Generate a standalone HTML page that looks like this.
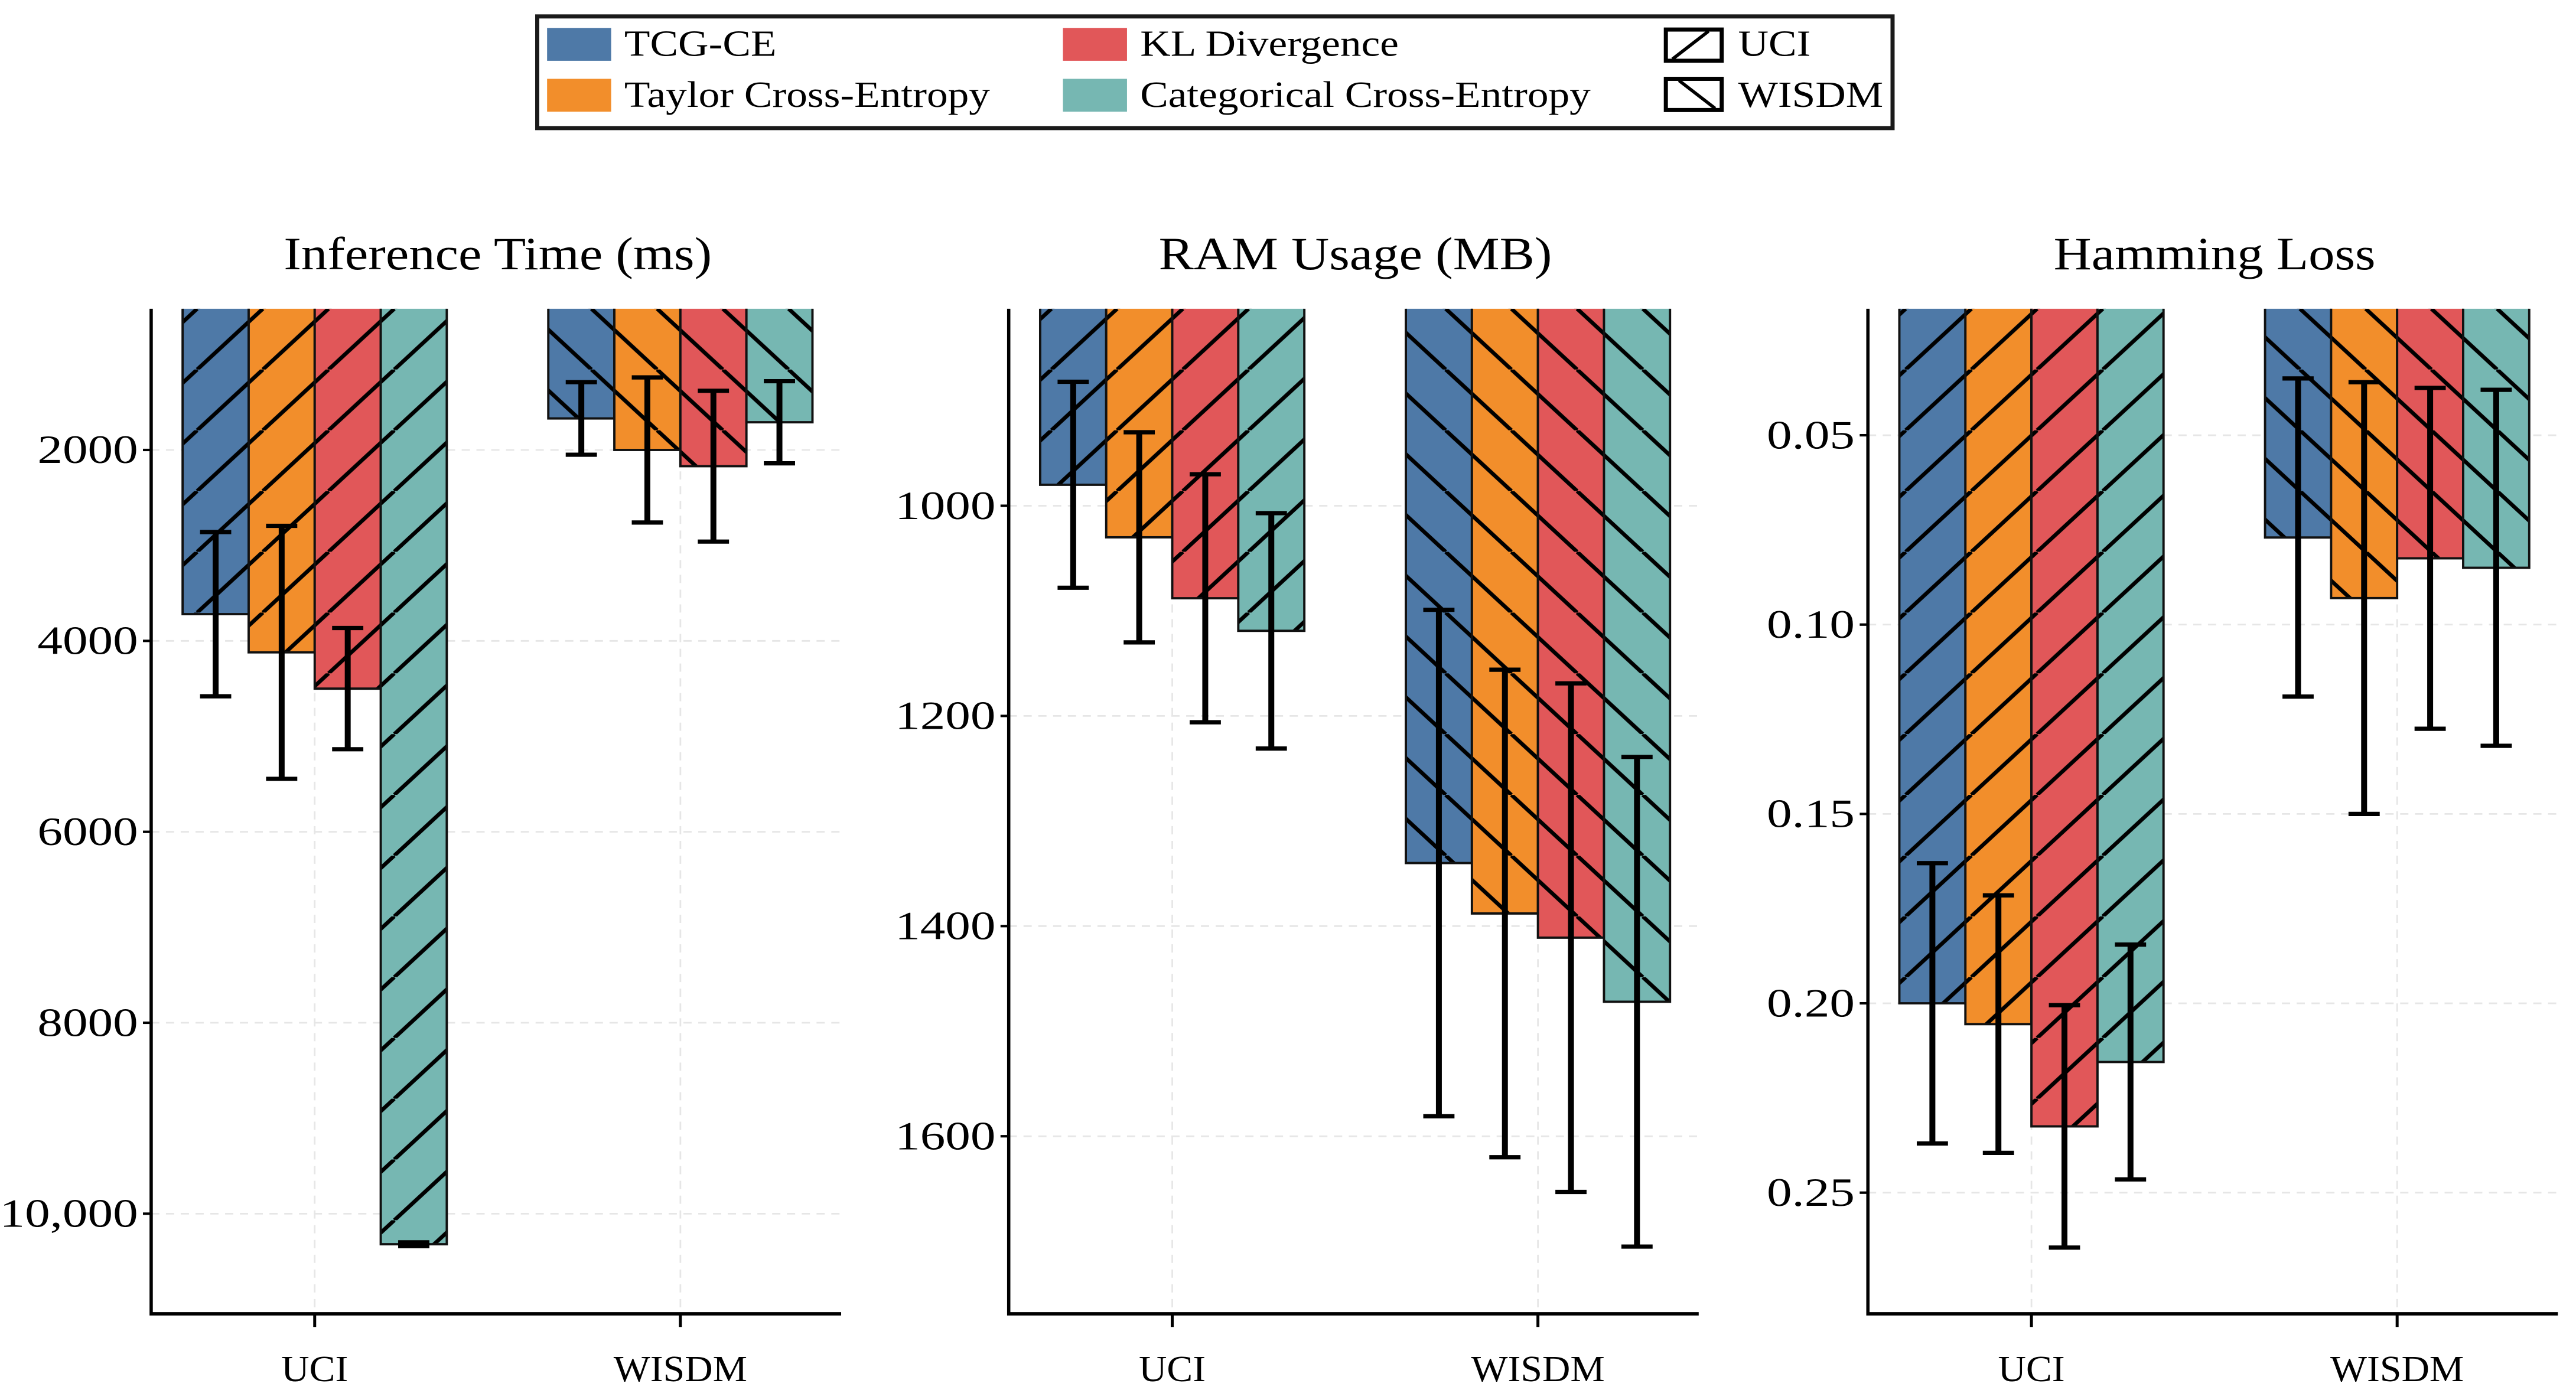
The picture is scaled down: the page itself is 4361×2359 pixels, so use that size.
<!DOCTYPE html>
<html><head><meta charset="utf-8"><style>
html,body{margin:0;padding:0;background:#fff;}
svg{display:block;font-family:"Liberation Serif","DejaVu Serif",serif;}
</style></head><body>
<svg id="chart" width="4361" height="2359" viewBox="0 0 1568 848.2" xmlns="http://www.w3.org/2000/svg">
<defs>
<pattern id="hf" patternUnits="userSpaceOnUse" width="40" height="37" x="0" y="188">
<line x1="-40" y1="37" x2="0" y2="0" stroke="#000" stroke-width="2.4"/>
<line x1="0" y1="37" x2="40" y2="0" stroke="#000" stroke-width="2.4"/>
<line x1="40" y1="37" x2="80" y2="0" stroke="#000" stroke-width="2.4"/>
</pattern>
<pattern id="hb" patternUnits="userSpaceOnUse" width="40" height="37" x="0" y="188">
<line x1="-40" y1="0" x2="0" y2="37" stroke="#000" stroke-width="2.4"/>
<line x1="0" y1="0" x2="40" y2="37" stroke="#000" stroke-width="2.4"/>
<line x1="40" y1="0" x2="80" y2="37" stroke="#000" stroke-width="2.4"/>
</pattern>
</defs>
<g>
<rect x="327" y="10" width="825" height="68" fill="#fff" stroke="#1a1a1a" stroke-width="2.5"/>
<rect x="333" y="17" width="39" height="20" fill="#4e79a7"/>
<text transform="translate(380,34) scale(1.14,1)" font-size="22.5">TCG-CE</text>
<rect x="333" y="48" width="39" height="20" fill="#f28e2b"/>
<text transform="translate(380,65) scale(1.14,1)" font-size="22.5">Taylor Cross-Entropy</text>
<rect x="647" y="17" width="39" height="20" fill="#e15759"/>
<text transform="translate(694,34) scale(1.14,1)" font-size="22.5">KL Divergence</text>
<rect x="647" y="48" width="39" height="20" fill="#76b7b2"/>
<text transform="translate(694,65) scale(1.14,1)" font-size="22.5">Categorical Cross-Entropy</text>
<g><rect x="1014" y="18" width="34" height="19" fill="#fff" stroke="#000" stroke-width="2.5"/><line x1="1018" y1="36" x2="1040" y2="19" stroke="#000" stroke-width="2"/></g>
<text transform="translate(1058,34) scale(1.14,1)" font-size="22.5">UCI</text>
<g><rect x="1014" y="48" width="34" height="19" fill="#fff" stroke="#000" stroke-width="2.5"/><line x1="1022" y1="49" x2="1044" y2="66" stroke="#000" stroke-width="2"/></g>
<text transform="translate(1058,65) scale(1.14,1)" font-size="22.5">WISDM</text>
</g>
<g id="panels"></g>
</svg>
<script>
const categories = ["UCI", "WISDM"];
const seriesNames = ["TCG-CE", "Taylor Cross-Entropy", "KL Divergence", "Categorical Cross-Entropy"];
const colors = ["#4e79a7", "#f28e2b", "#e15759", "#76b7b2"];
const titles = ["Inference Time (ms)", "RAM Usage (MB)", "Hamming Loss"];
// values[series][category]
const timeValues = [[3720, 1670], [4120, 2000], [4500, 2170], [10320, 1710]];
const timeErrors = [[860, 380], [1325, 760], [635, 790], [20, 430]];
const ramValues = [[980, 1340], [1030, 1388], [1088, 1411], [1119, 1472]];
const ramErrors = [[98, 241], [100, 232], [118, 242], [112, 233]];
const hamValues = [[0.200, 0.077], [0.2055, 0.093], [0.2325, 0.0825], [0.2155, 0.085]];
const hamErrors = [[0.037, 0.042], [0.034, 0.057], [0.032, 0.045], [0.031, 0.047]];
const timeTicks = [2000, 4000, 6000, 8000, 10000];
const timeTickLabels = ["2000", "4000", "6000", "8000", "10,000"];
const ramTicks = [1000, 1200, 1400, 1600];
const ramTickLabels = ["1000", "1200", "1400", "1600"];
const hamTicks = [0.05, 0.10, 0.15, 0.20, 0.25];
const hamTickLabels = ["0.05", "0.10", "0.15", "0.20", "0.25"];

const NS = "http://www.w3.org/2000/svg";
const root = document.getElementById("panels");
function mk(tag, attrs, parent) {
  const e = document.createElementNS(NS, tag);
  for (const k in attrs) e.setAttribute(k, attrs[k]);
  parent.appendChild(e);
  return e;
}
const panels = [
  {left: 92, right: 512, top: 188, bottom: 800, vmin: 521, vmax: 11049, vals: timeValues, errs: timeErrors, ticks: timeTicks, labels: timeTickLabels, key: "inference-time"},
  {left: 614, right: 1034, top: 188, bottom: 800, vmin: 812.5, vmax: 1769, vals: ramValues, errs: ramErrors, ticks: ramTicks, labels: ramTickLabels, key: "ram-usage"},
  {left: 1137, right: 1557, top: 188, bottom: 800, vmin: 0.0166, vmax: 0.282, vals: hamValues, errs: hamErrors, ticks: hamTicks, labels: hamTickLabels, key: "hamming-loss"}
];
panels.forEach((p, pi) => {
  const g = mk("g", {}, root);
  
  
  const W = p.right - p.left;
  const y = v => p.top + (v - p.vmin) / (p.vmax - p.vmin) * (p.bottom - p.top);
  const xc = ci => p.left + W * (0.237 + ci * 0.53);
  const bw = 40.2;
  const clipId = "clip" + pi;
  const cp = mk("clipPath", {id: clipId}, g);
  mk("rect", {x: p.left, y: p.top, width: W, height: p.bottom - p.top}, cp);
  p.ticks.forEach((t, i) => {
    const gl = mk("line", {x1: p.left, x2: p.right, y1: y(t), y2: y(t), stroke: "#e6e6e6", "stroke-width": 1, "stroke-dasharray": "5,4"}, g);
    
    
    mk("line", {x1: p.left - 5, x2: p.left, y1: y(t), y2: y(t), stroke: "#000", "stroke-width": 1.5}, g);
    const tl = mk("text", {transform: `translate(${p.left - 8},${y(t) + 8}) scale(1.25,1)`, "font-size": 24.5, "text-anchor": "end"}, g);
    tl.textContent = p.labels[i];
    
    
  });
  categories.forEach((c, ci) => {
    const vg = mk("line", {x1: xc(ci), x2: xc(ci), y1: p.top, y2: p.bottom, stroke: "#e6e6e6", "stroke-width": 1, "stroke-dasharray": "5,4"}, g);
    
    
  });
  const bars = mk("g", {"clip-path": "url(#" + clipId + ")"}, g);
  categories.forEach((c, ci) => {
    seriesNames.forEach((s, si) => {
      const x0 = xc(ci) + (si - 2) * bw;
      const v = p.vals[si][ci];
      const y0 = Math.max(y(0), p.top - 5);
      const y1 = y(v);
      const bg = mk("g", {}, bars);
      
      
      mk("rect", {x: x0, y: y0, width: bw, height: y1 - y0, fill: colors[si]}, bg);
      mk("rect", {x: x0, y: y0, width: bw, height: y1 - y0, fill: ci === 0 ? "url(#hf)" : "url(#hb)", stroke: "#111", "stroke-width": 1.4}, bg);
    });
  });
  categories.forEach((c, ci) => {
    seriesNames.forEach((s, si) => {
      const xm = xc(ci) + (si - 1.5) * bw;
      const v = p.vals[si][ci], e = p.errs[si][ci];
      const eg = mk("g", {stroke: "#000"}, g);
      
      
      mk("line", {x1: xm, x2: xm, y1: y(v - e), y2: y(v + e), "stroke-width": 3.6}, eg);
      mk("line", {x1: xm - 9.5, x2: xm + 9.5, y1: y(v - e), y2: y(v - e), "stroke-width": 2.6}, eg);
      mk("line", {x1: xm - 9.5, x2: xm + 9.5, y1: y(v + e), y2: y(v + e), "stroke-width": 2.6}, eg);
    });
    mk("line", {x1: xc(ci), x2: xc(ci), y1: p.bottom, y2: p.bottom + 8, stroke: "#000", "stroke-width": 1.8}, g);
    const xl = mk("text", {transform: `translate(${xc(ci)},${p.bottom + 41}) scale(1.05,1)`, "font-size": 22.5, "text-anchor": "middle"}, g);
    xl.textContent = c;
    
    
  });
  const ax = mk("path", {d: `M${p.left},${p.top} V${p.bottom} H${p.right}`, fill: "none", stroke: "#000", "stroke-width": 2}, g);
  
  
  const t = mk("text", {transform: `translate(${(p.left + p.right) / 2 + 1},164) scale(1.14,1)`, "font-size": 28, "text-anchor": "middle"}, g);
  t.textContent = titles[pi];
  
  
});
</script>
</body></html>
